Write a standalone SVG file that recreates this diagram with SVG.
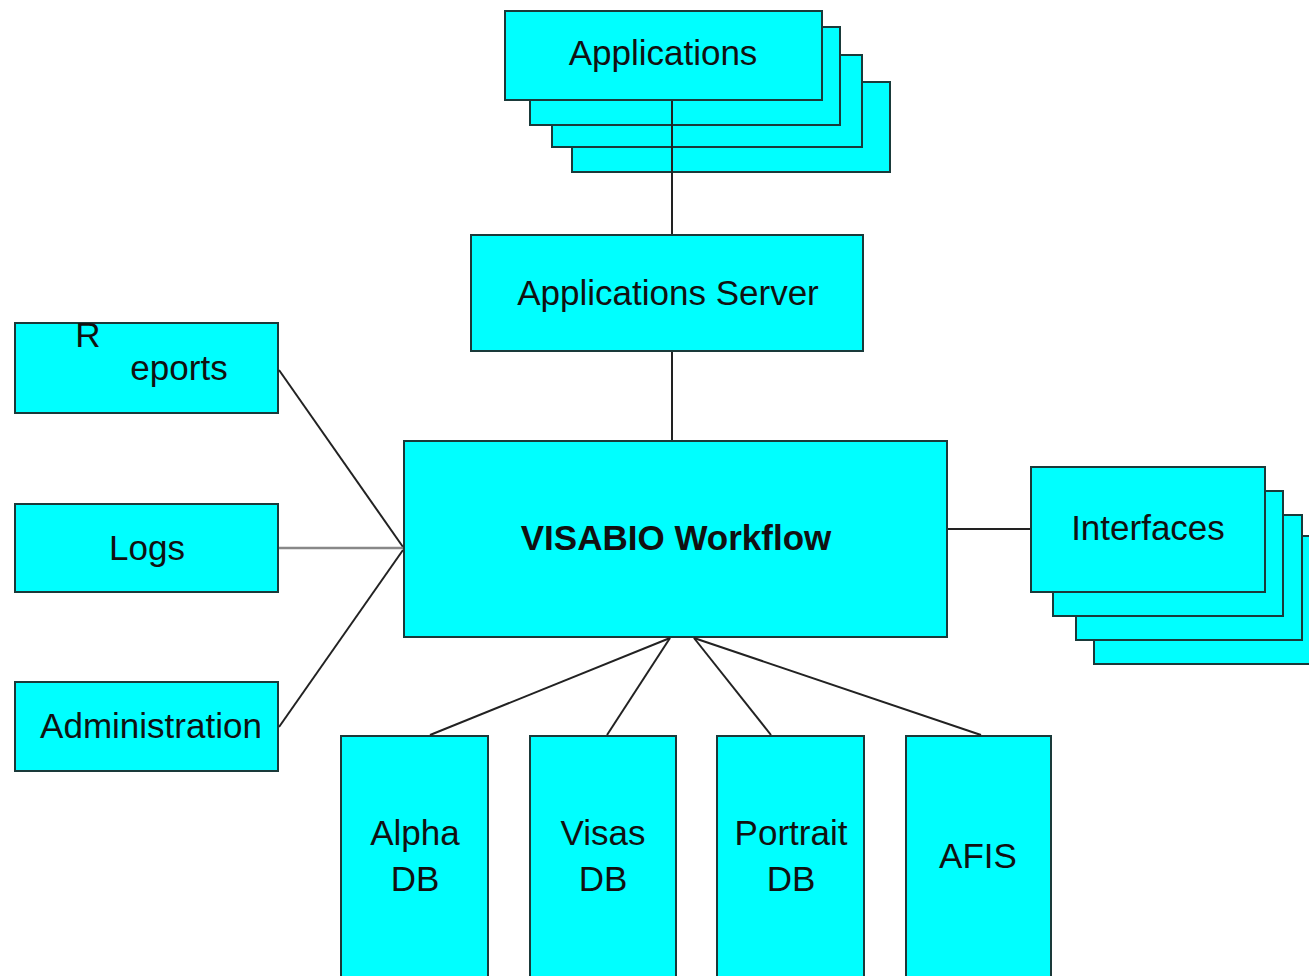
<svg xmlns="http://www.w3.org/2000/svg" width="1309" height="976" viewBox="0 0 1309 976">
<style>
.box{fill:#00FFFF;stroke:#1a3a3a;stroke-width:2}
.t{font-family:"Liberation Sans",Arial,sans-serif;font-size:35px;fill:#111;text-anchor:middle}
.b{font-weight:bold}
.c{stroke:#222;stroke-width:2;fill:none}
.g{stroke:#888;stroke-width:2.5;fill:none}
</style>
<rect width="1309" height="976" fill="#fff"/>
<g id="applications">
<rect class="box" x="572" y="82" width="318" height="90"/>
<rect class="box" x="552" y="55" width="310" height="92"/>
<rect class="box" x="530" y="27" width="310" height="98"/>
<rect class="box" x="505" y="11" width="317" height="89"/>
<text class="t" x="663" y="65">Applications</text>
</g>
<g id="appserver">
<rect class="box" x="471" y="235" width="392" height="116"/>
<text class="t" x="668" y="305">Applications Server</text>
</g>
<g id="workflow">
<rect class="box" x="404" y="441" width="543" height="196"/>
<text class="t b" x="676" y="550">VISABIO Workflow</text>
</g>
<g id="reports">
<rect class="box" x="15" y="323" width="263" height="90"/>
<text class="t" x="88" y="347">R</text>
<text class="t" x="179" y="380">eports</text>
</g>
<g id="logs">
<rect class="box" x="15" y="504" width="263" height="88"/>
<text class="t" x="147" y="560">Logs</text>
</g>
<g id="administration">
<rect class="box" x="15" y="682" width="263" height="89"/>
<text class="t" x="151" y="738">Administration</text>
</g>
<g id="interfaces">
<rect class="box" x="1094" y="536" width="220" height="128"/>
<rect class="box" x="1076" y="515" width="226" height="125"/>
<rect class="box" x="1053" y="491" width="230" height="125"/>
<rect class="box" x="1031" y="467" width="234" height="125"/>
<text class="t" x="1148" y="540">Interfaces</text>
</g>
<g id="alphadb">
<rect class="box" x="341" y="736" width="147" height="250"/>
<text class="t" x="415" y="845">Alpha</text>
<text class="t" x="415" y="891">DB</text>
</g>
<g id="visasdb">
<rect class="box" x="530" y="736" width="146" height="250"/>
<text class="t" x="603" y="845">Visas</text>
<text class="t" x="603" y="891">DB</text>
</g>
<g id="portraitdb">
<rect class="box" x="717" y="736" width="147" height="250"/>
<text class="t" x="791" y="845">Portrait</text>
<text class="t" x="791" y="891">DB</text>
</g>
<g id="afis">
<rect class="box" x="906" y="736" width="145" height="250"/>
<text class="t" x="978" y="868">AFIS</text>
</g>
<g id="connectors">
<line class="c" x1="672" y1="101" x2="672" y2="234"/>
<line class="c" x1="672" y1="352" x2="672" y2="440"/>
<line class="c" x1="279" y1="370" x2="403" y2="547"/>
<line class="g" x1="279" y1="548" x2="403" y2="548"/>
<line class="c" x1="279" y1="727" x2="403" y2="550"/>
<line class="c" x1="948" y1="529" x2="1030" y2="529"/>
<line class="c" x1="670" y1="638" x2="430" y2="735"/>
<line class="c" x1="670" y1="638" x2="607" y2="735"/>
<line class="c" x1="694" y1="638" x2="771" y2="735"/>
<line class="c" x1="694" y1="638" x2="981" y2="735"/>
</g>
</svg>
